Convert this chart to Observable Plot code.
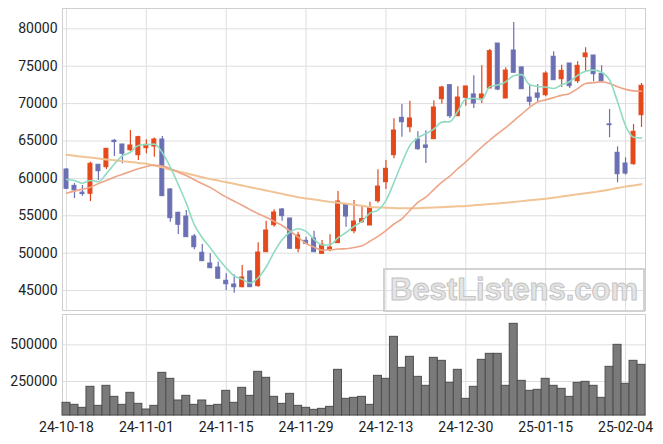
<!DOCTYPE html>
<html><head><meta charset="utf-8">
<script src="https://cdn.jsdelivr.net/npm/d3@7"></script>
<script src="https://cdn.jsdelivr.net/npm/@observablehq/plot@0.6"></script>
<style>
body{margin:0;background:#fff;}
#wrap{position:relative;width:663px;height:444px;font-family:Roboto,"Liberation Sans",sans-serif;}
#wrap svg{display:block;}
#wm{position:absolute;left:383px;top:268px;width:258px;height:40px;border:2px solid #d2d2d2;
  font:bold 31px "Liberation Sans",Arial,sans-serif;color:#e4e4e4;-webkit-text-stroke:1px #c4c4c4;
  text-align:center;line-height:40px;letter-spacing:0px;}
</style></head>
<body><div id="wrap"></div>
<script>
const dates = ["24-10-18","24-10-21","24-10-22","24-10-23","24-10-24","24-10-25","24-10-28","24-10-29","24-10-30","24-10-31",
"24-11-01","24-11-04","24-11-05","24-11-06","24-11-07","24-11-08","24-11-11","24-11-12","24-11-13","24-11-14",
"24-11-15","24-11-18","24-11-19","24-11-20","24-11-21","24-11-22","24-11-25","24-11-26","24-11-27","24-11-28",
"24-11-29","24-12-02","24-12-03","24-12-04","24-12-05","24-12-06","24-12-09","24-12-10","24-12-11","24-12-12",
"24-12-13","24-12-16","24-12-17","24-12-18","24-12-19","24-12-20","24-12-23","24-12-24","24-12-26","24-12-27",
"24-12-30","25-01-02","25-01-03","25-01-06","25-01-07","25-01-08","25-01-09","25-01-10","25-01-13","25-01-14",
"25-01-15","25-01-16","25-01-17","25-01-20","25-01-21","25-01-22","25-01-23","25-01-24","25-01-31","25-02-03",
"25-02-04","25-02-05","25-02-06"];
const open = [61190,59000,58100,57940,61820,61500,65030,64530,63770,63100,
64040,64260,65200,58520,55400,54900,52230,50050,48620,48080,
46310,45810,45450,47550,45590,50130,53740,55840,54640,50590,
51650,51960,49920,50400,51340,56510,52940,54140,53700,56950,
59490,63100,68100,66840,65200,64400,65240,70590,72460,68310,
70770,71220,70680,72020,78030,70680,77100,74830,70810,71350,
71120,76260,73260,75360,72990,76200,76430,73980,67220,63420,
61990,61900,68450];
const high = [61300,59300,59050,62170,61850,64000,65200,64550,66400,65640,
65160,65400,65600,58600,55480,55710,52500,51160,49920,48800,
47240,47110,48350,47690,51390,54280,55800,55980,54640,52800,
52140,52940,51700,52460,58250,56510,57040,56240,56820,61150,
62390,67970,69880,70320,66230,66360,70370,72330,72550,72250,
72290,73710,75050,77230,78030,74790,80840,74920,72600,72550,
74250,76920,75130,75360,75590,77460,76430,75050,69210,64220,
62750,67210,72690];
const low = [58500,57300,57600,56900,59720,61190,62930,61950,63600,62390,
63290,62830,57600,54140,52500,52140,50450,48930,47990,46580,
45010,44650,45370,45450,45450,50130,53470,54280,50590,50050,
51250,50130,49920,50180,51340,53470,52590,54010,53700,56680,
58520,62620,65510,66100,63770,61990,65240,69920,68010,68310,
69650,69340,70010,72020,71710,70680,74120,71920,69650,70240,
70910,73130,72150,72020,72690,74250,72910,72990,65430,59410,
60430,61760,66800];
const close = [58610,58400,57900,61950,60960,63960,64850,63290,64400,65510,
64490,65200,57620,54680,53800,52140,50800,48930,47990,46580,
45850,45450,46750,45450,50090,53030,55440,54950,50590,52360,
51250,50130,51120,50760,56910,54900,54230,54550,56150,58910,
61280,66400,67510,68010,63900,64090,69480,72150,68310,70810,
72290,70010,71220,77010,71880,74420,74120,71920,70240,70780,
74020,73130,74380,72330,75050,76700,73930,72990,67110,60560,
60650,66230,72380];
const volume = [104700,91000,70600,213700,84200,220500,145500,91000,172800,97800,
59200,84200,309000,268200,120600,152300,91000,120600,84200,91000,
186400,104700,206900,152300,315900,275000,145500,97800,166000,84200,
70600,57000,63800,77400,329500,131900,138700,145500,91000,288600,
268200,554300,343100,418100,281800,220500,411200,390800,240900,329500,
131900,213700,397600,438500,438500,220500,642900,254500,186400,193200,
268200,220500,200000,145500,240900,247700,220500,138700,350000,499800,
234100,390800,363600];
// 5-day MA: first four points (need earlier closes), rest from closes
const ma5Head = [59850,59720,59360,59720];
const ma20 = [58020,58300,58550,58820,59300,59720,60160,60540,60920,61280,
61600,61750,61650,61300,60830,60380,59810,59280,58800,58130,
57490,56950,56400,55820,55270,54800,54250,53700,52950,52140,
51300,50800,50400,50450,50550,50600,50750,51000,51600,52250,
53030,53900,54600,55710,56800,57490,58500,59500,60300,61300,
62200,63200,64200,65100,66000,66800,67700,68600,69500,70200,
70500,70800,71100,71350,72000,72690,72800,72900,72700,72250,
71900,71700,71660];
const ma60 = [63150,63030,62900,62780,62650,62530,62420,62300,62190,62070,
61950,61730,61500,61150,60920,60700,60420,60150,59900,59700,
59490,59270,59050,58820,58600,58380,58150,57930,57700,57490,
57320,57170,57010,56860,56740,56600,56470,56330,56180,56120,
56080,56040,56000,56000,56020,56060,56100,56150,56200,56260,
56320,56400,56480,56560,56650,56750,56850,56960,57080,57180,
57270,57420,57570,57720,57870,58000,58150,58300,58500,58720,
58900,59050,59220];
const priceTicks = [45000,50000,55000,60000,65000,70000,75000,80000];
const volTicks = [250000,500000];
const dateTickIdx = [0,10,20,30,40,50,60,70];

const ma5 = close.map((c,i)=> i<4 ? ma5Head[i] : d3.mean(close.slice(i-4,i+1)));
const rows = dates.map((d,i)=>({i, date:d, open:open[i], high:high[i], low:low[i], close:close[i],
  vol:volume[i], ma5:ma5[i], ma20:ma20[i], ma60:ma60[i], up: close[i] >= open[i]}));
const upRows = rows.filter(d=>d.up), dnRows = rows.filter(d=>!d.up);

const RED = "#e5481b", BLUE = "#6b70b4", GRID = "#dedede";
const xDomain = [-0.5, dates.length-0.5];
const font = {fontFamily:'Roboto,"Liberation Sans",sans-serif', fontSize:"14px", color:"#222", background:"transparent"};
const volFloor = 18400;

const topChart = Plot.plot({
  width:663, height:312, marginTop:8, marginBottom:2, marginLeft:62, marginRight:18,
  style:font,
  x:{type:"linear", domain:xDomain, axis:null},
  y:{domain:[42337,82714], ticks:priceTicks, tickSize:0, tickPadding:5, tickFormat:d3.format("d"), label:null},
  marks:[
    Plot.ruleY(priceTicks,{stroke:GRID}),
    Plot.ruleX(dateTickIdx,{stroke:GRID}),
    Plot.frame({stroke:"#cfcfcf"}),
    Plot.ruleX(upRows,{x:"i", y1:"low", y2:"high", stroke:RED, strokeWidth:1.2}),
    Plot.ruleX(dnRows,{x:"i", y1:"low", y2:"high", stroke:BLUE, strokeWidth:1.2}),
    Plot.rectY(upRows,{x1:d=>d.i-0.5, x2:d=>d.i+0.5, y1:"open", y2:"close", fill:RED, stroke:RED, strokeWidth:1, insetLeft:2, insetRight:2}),
    Plot.rectY(dnRows,{x1:d=>d.i-0.5, x2:d=>d.i+0.5, y1:"open", y2:"close", fill:BLUE, stroke:BLUE, strokeWidth:1, insetLeft:2, insetRight:2}),
    Plot.line(rows,{x:"i", y:"ma60", stroke:"#f2c495", strokeWidth:2, curve:"monotone-x"}),
    Plot.line(rows,{x:"i", y:"ma20", stroke:"#eea587", strokeWidth:1.6, curve:"monotone-x"}),
    Plot.line(rows,{x:"i", y:"ma5", stroke:"#8fdcc1", strokeWidth:1.6, curve:"monotone-x"})
  ]
});

const volChart = Plot.plot({
  width:663, height:132, marginTop:2, marginBottom:29, marginLeft:62, marginRight:18,
  style:font,
  x:{type:"linear", domain:xDomain, ticks:dateTickIdx, tickFormat:i=>dates[i], tickSize:0, tickPadding:7, label:null},
  y:{domain:[volFloor,706400], ticks:volTicks, tickSize:0, tickPadding:5, tickFormat:d3.format("d"), label:null},
  marks:[
    Plot.ruleY(volTicks,{stroke:GRID}),
    Plot.ruleX(dateTickIdx,{stroke:GRID}),
    Plot.frame({stroke:"#cfcfcf"}),
    Plot.rectY(rows,{x1:d=>d.i-0.5, x2:d=>d.i+0.5, y1:volFloor, y2:"vol", fill:"#7a7a7a", stroke:"#4e4e4e", strokeWidth:1})
  ]
});

const wrap = document.getElementById("wrap");
wrap.appendChild(topChart);
wrap.appendChild(volChart);
const wm = document.createElement("div");
wm.id = "wm"; wm.textContent = "BestListens.com";
wrap.appendChild(wm);
</script>
</body></html>
